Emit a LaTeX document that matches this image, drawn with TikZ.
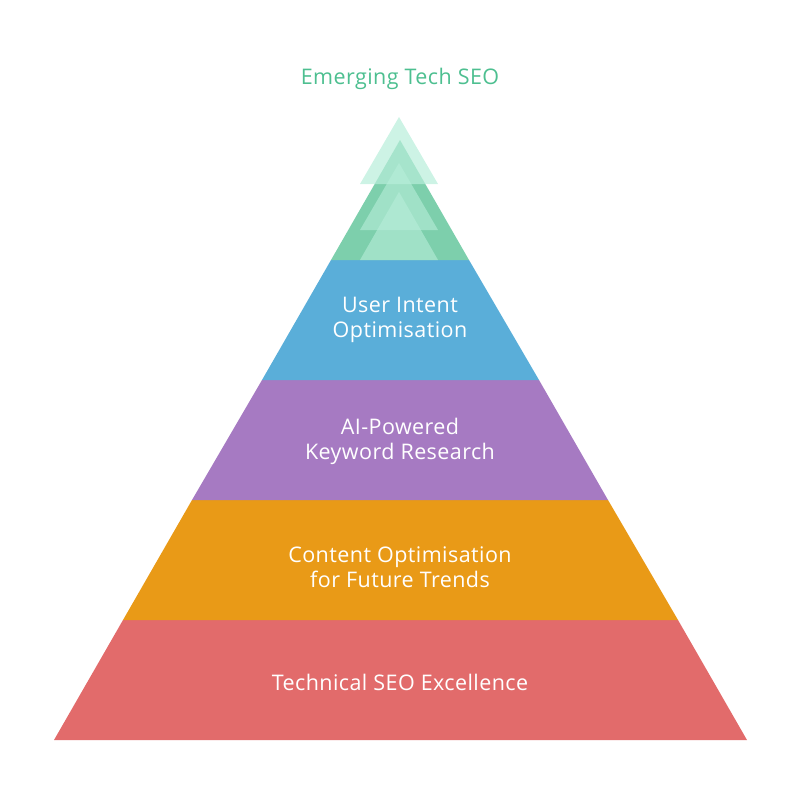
\documentclass[tikz,border=0pt]{standalone}
\usepackage{fontspec}
\setmainfont{Open Sans}[LetterSpace=2]
\begin{document}
\begin{tikzpicture}[x=1pt,y=-1pt,
  lbl/.style={text=white,font=\fontsize{21.5}{25}\selectfont,align=center}]
\definecolor{cred}{HTML}{E26B6B}
\definecolor{corange}{HTML}{E99A17}
\definecolor{cpurple}{HTML}{A67AC2}
\definecolor{cblue}{HTML}{5AAED9}
\definecolor{cgreen}{HTML}{7DCFAC}
\definecolor{clite}{HTML}{B8EEDA}
\definecolor{ctext}{HTML}{4DBF90}
\useasboundingbox (0,0) rectangle (800,800);
\fill[cred] (54,740) -- (747,740) -- (678,620) -- (123,620) -- cycle;
\fill[corange] (123,620) -- (678,620) -- (608,500) -- (192,500) -- cycle;
\fill[cpurple] (192,500) -- (608,500) -- (539,380) -- (262,380) -- cycle;
\fill[cblue] (262,380) -- (539,380) -- (469,260) -- (331,260) -- cycle;
\fill[cgreen] (331,260) -- (469,260) -- (400,140) -- cycle;
\fill[clite,fill opacity=0.6] (360,260) -- (438,260) -- (399,192) -- cycle;
\fill[clite,fill opacity=0.6] (360,230) -- (438,230) -- (399,163) -- cycle;
\fill[clite,fill opacity=0.7] (360,184) -- (438,184) -- (399,117) -- cycle;
\node[lbl] (t1) at (400,682) {Technical SEO Excellence};
\node[lbl] (t2) at (400,567) {Content Optimisation\\for Future Trends};
\node[lbl] (t3) at (400,441) {AI-Powered\\Keyword Research};
\node[lbl] (t4) at (400,320) {User Intent\\Optimisation};
\node[lbl,text=ctext] (t5) at (400,79) {Emerging Tech SEO};
\end{tikzpicture}
\end{document}
